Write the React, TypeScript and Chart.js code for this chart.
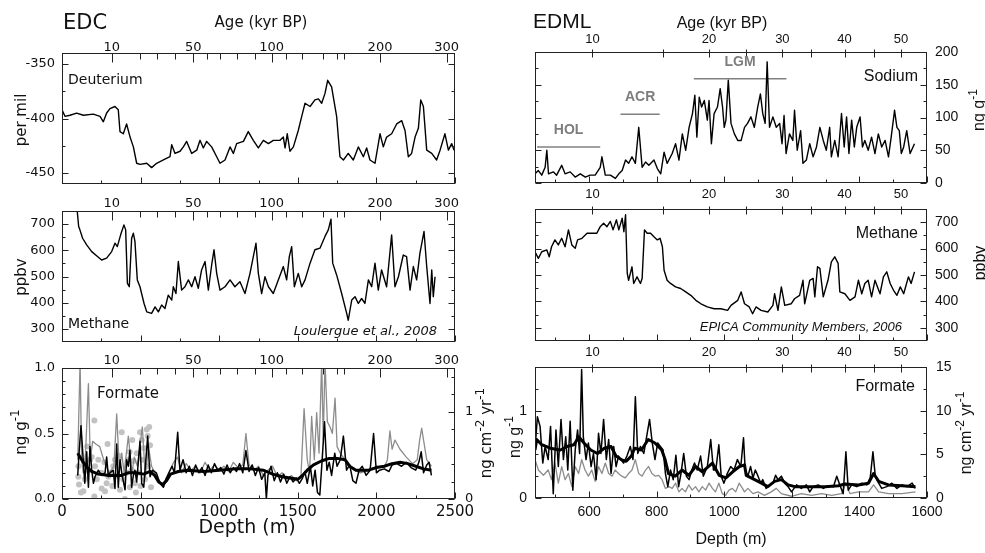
import React, { useEffect, useRef } from "react";
import { Chart, registerables } from "chart.js";

Chart.register(...registerables);

const W = 985;
const H = 553;
const LF = '"DejaVu Sans", "Liberation Sans", sans-serif';
const RF = '"Liberation Sans", Arial, sans-serif';
const AXW = 45; // reserved width for vertical axes
const AXH = 30; // reserved height for horizontal axes

// ---------------- DATA ----------------
// EDC age scale (kyr BP) expressed at depth (m)
const EDC_AGE_TICK_AGES = [10, 20, 30, 40, 50, 60, 70, 80, 90, 100, 110, 120, 130, 140, 150, 200, 300];
const EDC_AGE_TICK_DEPTHS = [316, 496, 602, 719, 835, 920, 1005, 1111, 1228, 1334, 1425, 1525, 1662, 1747, 1794, 2023, 2447];
const EDC_AGE_LABELS = [10, 50, 100, 200, 300];
const EDC_DEPTH_LABELS = [0, 500, 1000, 1500, 2000, 2500];

const EDC_DEUT_DEPTH = [0, 19, 51, 93, 136, 199, 242, 263, 284, 305, 337, 358, 369, 390, 411, 433, 454, 475, 496, 539, 570, 602, 645, 687, 698, 719, 751, 772, 793, 825, 857, 878, 899, 920, 952, 984, 1005, 1037, 1069, 1090, 1111, 1154, 1185, 1217, 1249, 1281, 1313, 1344, 1387, 1408, 1419, 1433, 1450, 1472, 1503, 1525, 1546, 1578, 1609, 1631, 1652, 1673, 1690, 1715, 1747, 1768, 1790, 1821, 1853, 1885, 1917, 1938, 1959, 1991, 2023, 2044, 2065, 2097, 2129, 2161, 2182, 2203, 2224, 2246, 2267, 2282, 2299, 2320, 2352, 2383, 2405, 2436, 2458, 2479, 2494];
const EDC_DEUT_VALUE = [-392, -398, -397, -395, -397, -396, -398, -403, -395, -391, -389, -392, -412, -414, -405, -417, -426, -441, -442, -441, -445, -441, -438, -435, -424, -432, -430, -426, -421, -432, -429, -420, -427, -421, -426, -435, -441, -438, -426, -432, -423, -421, -412, -420, -427, -420, -423, -420, -420, -417, -427, -414, -430, -426, -411, -398, -386, -389, -383, -382, -386, -377, -365, -371, -398, -435, -438, -432, -438, -426, -435, -427, -438, -441, -414, -426, -417, -414, -405, -402, -411, -435, -432, -417, -409, -383, -389, -429, -432, -438, -429, -414, -429, -423, -429];

const EDC_CH4_DEPTH = [97, 106, 114, 131, 157, 189, 220, 252, 284, 316, 337, 352, 373, 394, 405, 416, 428, 443, 454, 464, 479, 496, 522, 539, 570, 592, 613, 634, 655, 676, 698, 708, 725, 740, 761, 782, 804, 825, 846, 867, 888, 910, 931, 952, 967, 984, 1005, 1037, 1069, 1100, 1132, 1164, 1196, 1217, 1234, 1249, 1270, 1291, 1313, 1344, 1376, 1408, 1429, 1446, 1461, 1478, 1503, 1525, 1546, 1578, 1609, 1641, 1673, 1694, 1711, 1722, 1747, 1779, 1811, 1821, 1843, 1864, 1885, 1906, 1927, 1949, 1970, 1991, 2012, 2033, 2065, 2097, 2118, 2140, 2171, 2192, 2214, 2235, 2256, 2277, 2303, 2320, 2341, 2352, 2362, 2373];
const EDC_CH4_VALUE = [749, 691, 678, 646, 621, 595, 579, 563, 570, 595, 627, 614, 659, 697, 678, 474, 461, 646, 665, 634, 487, 461, 397, 365, 359, 384, 365, 391, 378, 429, 410, 461, 435, 557, 448, 461, 487, 461, 499, 455, 525, 557, 448, 544, 602, 512, 448, 461, 487, 461, 480, 435, 512, 576, 627, 512, 435, 499, 461, 435, 487, 538, 487, 576, 614, 461, 512, 461, 487, 551, 602, 608, 653, 678, 719, 551, 506, 435, 359, 333, 410, 423, 397, 416, 397, 487, 461, 551, 448, 525, 461, 659, 461, 499, 582, 576, 448, 538, 487, 589, 672, 538, 397, 525, 423, 499];

// EDC formate (ng/g): raw (black), running mean (thick), grey curve, grey dots
const EDC_FORM_DEPTH = [100, 110, 121, 135, 145, 157, 168, 178, 189, 200, 210, 231, 252, 274, 284, 295, 305, 326, 337, 348, 358, 369, 380, 401, 411, 422, 432, 443, 454, 464, 475, 496, 507, 520, 545, 560, 575, 600, 623, 645, 660, 680, 700, 715, 736, 750, 770, 790, 810, 830, 850, 870, 890, 910, 930, 950, 970, 990, 1010, 1030, 1050, 1070, 1090, 1110, 1130, 1150, 1170, 1190, 1210, 1230, 1250, 1270, 1290, 1300, 1310, 1330, 1350, 1370, 1390, 1410, 1430, 1450, 1470, 1490, 1510, 1530, 1545, 1560, 1580, 1595, 1610, 1625, 1640, 1655, 1670, 1685, 1700, 1715, 1735, 1750, 1770, 1790, 1810, 1830, 1850, 1870, 1890, 1910, 1935, 1960, 1982, 2000, 2020, 2050, 2080, 2100, 2130, 2160, 2190, 2220, 2250, 2270, 2285, 2300, 2320, 2335, 2350];
const EDC_FORM_VALUE = [0.18, 0.38, 0.56, 0.30, 0.12, 0.36, 0.09, 0.40, 0.22, 0.12, 0.17, 0.22, 0.18, 0.20, 0.32, 0.17, 0.20, 0.22, 0.08, 0.42, 0.09, 0.30, 0.20, 0.07, 0.30, 0.25, 0.37, 0.09, 0.18, 0.22, 0.13, 0.44, 0.12, 0.09, 0.48, 0.17, 0.22, 0.20, 0.12, 0.09, 0.15, 0.20, 0.25, 0.20, 0.51, 0.22, 0.30, 0.20, 0.25, 0.18, 0.26, 0.20, 0.24, 0.18, 0.26, 0.20, 0.27, 0.22, 0.24, 0.19, 0.26, 0.20, 0.24, 0.21, 0.27, 0.20, 0.37, 0.21, 0.26, 0.18, 0.24, 0.15, 0.20, 0.00, 0.18, 0.25, 0.14, 0.20, 0.13, 0.19, 0.12, 0.17, 0.13, 0.16, 0.12, 0.16, 0.21, 0.12, 0.25, 0.10, 0.22, 0.05, 0.03, 0.30, 0.59, 0.22, 0.28, 0.18, 0.35, 0.25, 0.30, 0.48, 0.22, 0.26, 0.14, 0.12, 0.22, 0.25, 0.18, 0.22, 0.50, 0.20, 0.22, 0.23, 0.21, 0.26, 0.27, 0.25, 0.28, 0.24, 0.22, 0.28, 0.36, 0.20, 0.26, 0.28, 0.18];
const EDC_FORM_MEAN_DEPTH = [100, 130, 160, 190, 230, 300, 380, 420, 470, 520, 560, 590, 615, 640, 665, 690, 740, 800, 900, 1000, 1100, 1200, 1280, 1340, 1400, 1450, 1500, 1530, 1560, 1600, 1650, 1700, 1750, 1800, 1830, 1870, 1950, 2000, 2050, 2100, 2150, 2200, 2250, 2300, 2350];
const EDC_FORM_MEAN_VALUE = [0.35, 0.29, 0.24, 0.21, 0.19, 0.18, 0.18, 0.20, 0.20, 0.19, 0.21, 0.18, 0.13, 0.11, 0.14, 0.19, 0.21, 0.22, 0.21, 0.22, 0.23, 0.23, 0.22, 0.19, 0.17, 0.16, 0.15, 0.18, 0.22, 0.26, 0.29, 0.31, 0.31, 0.30, 0.25, 0.22, 0.22, 0.24, 0.25, 0.27, 0.28, 0.27, 0.25, 0.23, 0.22];
const EDC_FLUX_DEPTH = [100, 115, 125, 135, 150, 168, 180, 195, 215, 240, 265, 300, 330, 348, 365, 380, 395, 422, 445, 460, 480, 511, 530, 550, 570, 600, 630, 650, 680, 710, 735, 760, 790, 820, 850, 880, 910, 940, 970, 1000, 1030, 1060, 1090, 1120, 1150, 1170, 1190, 1220, 1250, 1280, 1310, 1340, 1370, 1400, 1430, 1460, 1490, 1520, 1540, 1560, 1575, 1588, 1605, 1620, 1635, 1652, 1662, 1673, 1688, 1705, 1720, 1737, 1750, 1770, 1800, 1830, 1860, 1900, 1950, 2000, 2050, 2070, 2086, 2100, 2118, 2150, 2190, 2230, 2260, 2275, 2288, 2300, 2320, 2350];
const EDC_FLUX_VALUE = [0.30, 1.05, 0.30, 0.20, 0.35, 0.88, 0.30, 0.44, 0.42, 0.40, 0.30, 0.20, 0.25, 0.65, 0.22, 0.35, 0.20, 0.48, 0.20, 0.32, 0.25, 0.55, 0.17, 0.40, 0.25, 0.18, 0.12, 0.10, 0.20, 0.28, 0.32, 0.20, 0.27, 0.22, 0.25, 0.20, 0.28, 0.22, 0.26, 0.22, 0.25, 0.21, 0.28, 0.24, 0.26, 0.50, 0.26, 0.22, 0.25, 0.18, 0.22, 0.25, 0.17, 0.20, 0.15, 0.18, 0.14, 0.17, 0.69, 0.30, 0.20, 0.63, 0.30, 0.66, 0.35, 1.05, 0.45, 1.05, 0.59, 0.55, 0.50, 0.77, 0.40, 0.35, 0.30, 0.25, 0.22, 0.20, 0.22, 0.25, 0.24, 0.30, 0.52, 0.38, 0.45, 0.38, 0.32, 0.27, 0.30, 0.45, 0.54, 0.45, 0.30, 0.25];
const EDC_DOT_DEPTH = [104, 104, 108, 120, 136, 146, 160, 168, 178, 189, 206, 206, 210, 221, 231, 250, 252, 270, 274, 284, 290, 295, 305, 320, 326, 337, 350, 360, 369, 380, 390, 400, 411, 422, 430, 432, 443, 447, 455, 464, 470, 475, 486, 496, 500, 507, 511, 520, 528, 539, 545, 549, 555, 560, 566];
const EDC_DOT_VALUE = [0.25, 0.17, 0.11, 0.05, 0.06, 0.15, 0.40, 0.22, 0.30, 0.32, 0.60, 0.02, 0.25, 0.15, 0.30, 0.20, 0.08, 0.28, 0.06, 0.12, 0.42, 0.17, 0.20, 0.10, 0.25, 0.30, 0.18, 0.33, 0.07, 0.51, 0.15, 0.00, 0.20, 0.30, 0.36, 0.09, 0.22, 0.45, 0.29, 0.12, 0.05, 0.35, 0.20, 0.51, 0.10, 0.45, 0.30, 0.39, 0.15, 0.53, 0.48, 0.25, 0.55, 0.41, 0.09];

// EDML
const EDML_AGE_TICK_AGES = [10, 15, 20, 25, 30, 35, 40, 45, 50];
const EDML_AGE_TICK_DEPTHS = [610, 818, 955, 1065, 1172, 1258, 1356, 1442, 1523];
const EDML_AGE_LABELS = [10, 20, 30, 40, 50];
const EDML_DEPTH_LABELS = [600, 800, 1000, 1200, 1400, 1600];

const PERIOD_NAMES = ["HOL", "ACR", "LGM"];
const PERIOD_START_DEPTH = [446, 693, 910];
const PERIOD_END_DEPTH = [633, 809, 1184];
const PERIOD_NA_LEVEL = [55, 105, 159];

const EDML_NA_DEPTH = [440, 450, 460, 470, 475, 480, 494, 504, 519, 529, 544, 559, 574, 589, 603, 618, 633, 638, 648, 663, 678, 688, 698, 708, 717, 727, 737, 747, 757, 767, 777, 792, 802, 812, 822, 831, 846, 856, 866, 876, 886, 896, 906, 913, 919, 926, 933, 941, 950, 955, 962, 970, 980, 988, 995, 1000, 1005, 1012, 1020, 1030, 1040, 1050, 1060, 1069, 1079, 1089, 1099, 1107, 1114, 1121, 1127, 1134, 1144, 1154, 1164, 1171, 1177, 1183, 1193, 1203, 1208, 1216, 1226, 1233, 1243, 1253, 1263, 1273, 1283, 1293, 1302, 1312, 1317, 1327, 1337, 1347, 1355, 1362, 1369, 1377, 1385, 1392, 1402, 1409, 1416, 1426, 1436, 1446, 1456, 1466, 1476, 1486, 1494, 1504, 1511, 1518, 1524, 1531, 1540, 1550, 1563];
const EDML_NA_VALUE = [14, 19, 12, 24, 50, 14, 17, 12, 27, 14, 17, 9, 14, 9, 12, 12, 24, 40, 12, 12, 7, 14, 19, 35, 30, 40, 30, 85, 24, 32, 27, 35, 22, 14, 47, 30, 45, 60, 35, 75, 50, 85, 106, 134, 70, 131, 116, 126, 96, 126, 60, 106, 116, 144, 116, 85, 96, 157, 91, 75, 65, 65, 85, 91, 101, 85, 116, 136, 106, 91, 185, 85, 101, 85, 91, 60, 103, 45, 75, 65, 111, 50, 80, 30, 35, 60, 40, 55, 85, 65, 50, 85, 40, 65, 40, 106, 55, 101, 45, 96, 55, 85, 101, 55, 65, 50, 70, 45, 75, 55, 65, 40, 70, 111, 85, 80, 45, 55, 80, 45, 60];

const EDML_CH4_DEPTH = [440, 450, 460, 475, 482, 489, 499, 509, 519, 529, 539, 549, 559, 566, 579, 594, 623, 633, 643, 653, 663, 671, 681, 688, 698, 703, 708, 713, 717, 727, 732, 742, 752, 757, 764, 772, 782, 792, 802, 810, 817, 822, 831, 841, 856, 871, 886, 901, 916, 931, 950, 970, 990, 1010, 1020, 1040, 1050, 1060, 1074, 1084, 1094, 1109, 1129, 1144, 1149, 1159, 1169, 1179, 1198, 1208, 1223, 1233, 1238, 1253, 1263, 1268, 1276, 1283, 1293, 1307, 1317, 1327, 1337, 1342, 1357, 1372, 1387, 1397, 1407, 1416, 1426, 1436, 1446, 1461, 1471, 1481, 1491, 1501, 1511, 1521, 1531, 1545, 1553, 1563];
const EDML_CH4_VALUE = [588, 563, 588, 595, 569, 607, 633, 614, 639, 607, 671, 614, 601, 633, 639, 658, 658, 683, 696, 683, 703, 671, 709, 671, 715, 664, 728, 506, 480, 531, 468, 493, 468, 487, 671, 658, 658, 645, 633, 639, 607, 518, 480, 468, 455, 449, 436, 423, 404, 391, 379, 372, 372, 366, 385, 404, 436, 391, 379, 353, 379, 366, 360, 385, 429, 366, 455, 385, 391, 410, 423, 480, 391, 480, 487, 417, 531, 525, 417, 480, 550, 569, 544, 436, 429, 404, 417, 480, 429, 468, 480, 417, 480, 429, 493, 512, 468, 442, 423, 455, 429, 493, 468, 512];

const EDML_FORM_DEPTH = [440, 447, 455, 463, 470, 479, 486, 494, 502, 509, 517, 524, 531, 537, 544, 552, 559, 566, 572, 578, 583, 591, 598, 606, 613, 621, 628, 635, 643, 651, 658, 665, 673, 680, 687, 694, 702, 712, 722, 730, 737, 744, 752, 762, 772, 779, 787, 795, 803, 811, 819, 826, 833, 841, 849, 857, 865, 872, 880, 888, 896, 904, 912, 920, 930, 938, 950, 960, 968, 975, 984, 991, 999, 1009, 1019, 1029, 1039, 1049, 1057, 1062, 1070, 1078, 1085, 1092, 1100, 1108, 1114, 1124, 1134, 1144, 1152, 1159, 1169, 1179, 1189, 1199, 1214, 1228, 1243, 1253, 1263, 1278, 1293, 1308, 1323, 1333, 1342, 1352, 1360, 1367, 1377, 1392, 1407, 1422, 1432, 1440, 1447, 1457, 1466, 1481, 1496, 1511, 1526, 1541, 1556, 1565];
const EDML_FORM_VALUE = [0.55, 0.93, 0.82, 0.40, 0.59, 0.44, 0.82, 0.05, 0.78, 0.36, 0.90, 0.44, 0.70, 0.32, 0.88, 0.09, 0.55, 0.78, 0.51, 1.47, 0.70, 0.44, 0.63, 0.36, 0.51, 0.21, 0.74, 0.51, 0.90, 0.44, 0.67, 0.28, 0.59, 0.36, 0.48, 0.44, 0.40, 0.48, 0.59, 0.44, 1.16, 0.51, 0.59, 0.51, 0.74, 0.90, 0.63, 0.44, 0.63, 0.59, 0.55, 0.28, 0.13, 0.32, 0.21, 0.49, 0.13, 0.28, 0.51, 0.25, 0.21, 0.32, 0.40, 0.32, 0.48, 0.25, 0.36, 0.67, 0.32, 0.32, 0.61, 0.25, 0.17, 0.28, 0.36, 0.32, 0.44, 0.36, 0.69, 0.32, 0.25, 0.36, 0.23, 0.32, 0.25, 0.17, 0.21, 0.11, 0.15, 0.17, 0.26, 0.21, 0.25, 0.17, 0.13, 0.07, 0.15, 0.11, 0.15, 0.07, 0.13, 0.15, 0.11, 0.14, 0.13, 0.25, 0.15, 0.05, 0.53, 0.09, 0.15, 0.13, 0.17, 0.15, 0.23, 0.53, 0.25, 0.17, 0.11, 0.13, 0.17, 0.11, 0.15, 0.13, 0.17, 0.11];
const EDML_FORM_MEAN_DEPTH = [440, 445, 460, 485, 515, 535, 555, 570, 585, 605, 625, 645, 665, 680, 695, 710, 725, 735, 755, 775, 795, 815, 825, 835, 855, 875, 895, 915, 935, 965, 985, 1005, 1025, 1045, 1060, 1065, 1090, 1110, 1129, 1149, 1169, 1189, 1209, 1248, 1298, 1338, 1357, 1397, 1427, 1442, 1457, 1486, 1526, 1566];
const EDML_FORM_MEAN_VALUE = [0.55, 0.67, 0.61, 0.57, 0.55, 0.59, 0.61, 0.70, 0.63, 0.55, 0.51, 0.57, 0.59, 0.48, 0.44, 0.42, 0.48, 0.57, 0.55, 0.67, 0.63, 0.55, 0.44, 0.28, 0.25, 0.32, 0.26, 0.36, 0.30, 0.40, 0.26, 0.23, 0.30, 0.36, 0.38, 0.26, 0.21, 0.17, 0.13, 0.19, 0.21, 0.15, 0.13, 0.13, 0.13, 0.14, 0.16, 0.15, 0.17, 0.28, 0.19, 0.15, 0.14, 0.13];
const EDML_GREY_DEPTH = [440, 450, 465, 479, 489, 499, 509, 519, 529, 539, 549, 559, 569, 578, 588, 598, 608, 618, 628, 638, 648, 658, 668, 677, 687, 697, 707, 717, 727, 737, 747, 757, 767, 776, 786, 796, 806, 816, 826, 836, 846, 856, 866, 875, 885, 895, 905, 915, 925, 935, 945, 955, 965, 974, 984, 994, 1004, 1014, 1024, 1034, 1044, 1054, 1060, 1070, 1085, 1100, 1119, 1139, 1154, 1169, 1199, 1228, 1258, 1288, 1318, 1347, 1360, 1372, 1397, 1427, 1442, 1457, 1486, 1526, 1566];
const EDML_GREY_VALUE = [0.44, 0.32, 0.26, 0.32, 0.21, 0.40, 0.17, 0.36, 0.21, 0.28, 0.13, 0.36, 0.28, 0.44, 0.32, 0.25, 0.32, 0.19, 0.36, 0.28, 0.40, 0.28, 0.25, 0.32, 0.28, 0.25, 0.23, 0.28, 0.32, 0.44, 0.28, 0.25, 0.32, 0.36, 0.28, 0.25, 0.26, 0.21, 0.11, 0.13, 0.11, 0.17, 0.07, 0.11, 0.07, 0.15, 0.09, 0.13, 0.07, 0.13, 0.09, 0.17, 0.11, 0.07, 0.17, 0.05, 0.03, 0.09, 0.11, 0.07, 0.17, 0.11, 0.07, 0.11, 0.05, 0.07, 0.03, 0.07, 0.11, 0.05, 0.02, 0.05, 0.03, 0.05, 0.03, 0.05, 0.17, 0.05, 0.07, 0.07, 0.15, 0.07, 0.05, 0.05, 0.07];

// ---------------- helpers ----------------
type Part = { t: string; sup?: boolean };
type Txt = {
  parts: Part[];
  x: number;
  y: number;
  size: number;
  family: string;
  align?: "left" | "center" | "right";
  rotate?: boolean;
  style?: string;
  color?: string;
};

const txt = (s: string, x: number, y: number, size: number, family: string, more: any = {}): Txt => ({
  parts: [{ t: s }],
  x,
  y,
  size,
  family,
  ...more,
});
const rich = (parts: Part[], x: number, y: number, size: number, family: string, more: any = {}): Txt => ({
  parts,
  x,
  y,
  size,
  family,
  ...more,
});

const NG_G: Part[] = [{ t: "ng g" }, { t: "-1", sup: true }];
const FLUX: Part[] = [{ t: "ng cm" }, { t: "-2", sup: true }, { t: " yr" }, { t: "-1", sup: true }];

function drawTxt(ctx: CanvasRenderingContext2D, s: Txt) {
  const pre = s.style ? s.style + " " : "";
  const bigF = `${pre}${s.size}px ${s.family}`;
  const supF = `${pre}${Math.round(s.size * 0.78)}px ${s.family}`;
  ctx.save();
  ctx.translate(s.x, s.y);
  if (s.rotate) ctx.rotate(-Math.PI / 2);
  ctx.fillStyle = s.color || "#111";
  ctx.textBaseline = "middle";
  ctx.textAlign = "left";
  let total = 0;
  const widths = s.parts.map((p) => {
    ctx.font = p.sup ? supF : bigF;
    const w = ctx.measureText(p.t).width;
    total += w;
    return w;
  });
  let x = s.align === "center" ? -total / 2 : s.align === "right" ? -total : 0;
  s.parts.forEach((p, i) => {
    ctx.font = p.sup ? supF : bigF;
    ctx.fillText(p.t, x, p.sup ? -s.size * 0.42 : 0);
    x += widths[i];
  });
  ctx.restore();
}

type FrameSpec = {
  yMajor: number[];
  yMinor: number[];
  y2Major?: number[];
  y2Minor?: number[];
  xMajor: number[];
  xMinor: number[];
  ageDepths: number[];
  ageMajor: boolean[];
  majIn: number;
  majOut: number;
  minIn: number;
  minOut: number;
  texts: Txt[];
  periods?: boolean;
};

const makeFrame = (f: FrameSpec) => ({
  id: "frame",
  afterDraw(chart: any) {
    const { ctx, chartArea: a, scales } = chart;
    const L = Math.round(a.left) + 0.5;
    const R = Math.round(a.right) - 0.5;
    const T = Math.round(a.top) + 0.5;
    const B = Math.round(a.bottom) - 0.5;
    const P = (s: any, v: number) => Math.round(s.getPixelForValue(v)) + 0.5;
    const yS = scales.y;
    const y2S = scales.y2;
    const xS = scales.x;
    ctx.save();
    ctx.strokeStyle = "#222";
    ctx.lineWidth = 1;
    ctx.beginPath();
    const seg = (x1: number, y1: number, x2: number, y2: number) => {
      ctx.moveTo(x1, y1);
      ctx.lineTo(x2, y2);
    };
    f.yMajor.forEach((v) => {
      const y = P(yS, v);
      seg(L, y, L + 6, y);
      if (!y2S) seg(R, y, R - 6, y);
    });
    f.yMinor.forEach((v) => {
      const y = P(yS, v);
      seg(L, y, L + 3, y);
      if (!y2S) seg(R, y, R - 3, y);
    });
    if (y2S) {
      (f.y2Major || []).forEach((v) => {
        const y = P(y2S, v);
        seg(R, y, R - 6, y);
      });
      (f.y2Minor || []).forEach((v) => {
        const y = P(y2S, v);
        seg(R, y, R - 3, y);
      });
    }
    f.xMajor.forEach((v) => {
      const x = P(xS, v);
      seg(x, B, x, B - 6);
    });
    f.xMinor.forEach((v) => {
      const x = P(xS, v);
      seg(x, B, x, B - 3);
    });
    f.ageDepths.forEach((d, i) => {
      const x = P(xS, d);
      const maj = f.ageMajor[i];
      seg(x, T - (maj ? f.majOut : f.minOut), x, T + (maj ? f.majIn : f.minIn));
    });
    ctx.stroke();
    ctx.strokeRect(L, T, R - L, B - T);
    if (f.periods) {
      PERIOD_NAMES.forEach((n, i) => {
        const cx = (xS.getPixelForValue(PERIOD_START_DEPTH[i]) + xS.getPixelForValue(PERIOD_END_DEPTH[i])) / 2;
        const cy = yS.getPixelForValue(PERIOD_NA_LEVEL[i]) - 17;
        drawTxt(ctx, txt(n, cx, cy, 14, RF, { align: "center", style: "bold", color: "#7d7d7d" }));
      });
    }
    f.texts.forEach((t) => drawTxt(ctx, t));
    ctx.restore();
  },
});

function linAxis(position: string, min: number, max: number, labels: number[], family: string, size: number, pad: number, fmt?: (v: number) => string) {
  const horiz = position === "top" || position === "bottom";
  return {
    type: "linear",
    position,
    min,
    max,
    grid: { display: false, drawTicks: false },
    border: { display: false },
    afterBuildTicks: (s: any) => {
      s.ticks = labels.map((v) => ({ value: v }));
    },
    afterFit: (s: any) => {
      if (horiz) s.height = AXH;
      else s.width = AXW;
    },
    ticks: {
      display: labels.length > 0,
      autoSkip: false,
      maxRotation: 0,
      minRotation: 0,
      padding: pad,
      color: "#111",
      font: { family, size },
      callback: (v: any) => (fmt ? fmt(Number(v)) : String(v)),
    },
  };
}

const pts = (xs: number[], ys: number[]) => xs.map((x, i) => ({ x, y: ys[i] }));
const line = (xs: number[], ys: number[], color: string, width: number) => ({
  data: pts(xs, ys),
  borderColor: color,
  backgroundColor: color,
  borderWidth: width,
  pointRadius: 0,
  fill: false,
  tension: 0,
  borderJoinStyle: "round",
  xAxisID: "x",
  yAxisID: "y",
});
const dots = (xs: number[], ys: number[], color: string, r: number) => ({
  data: pts(xs, ys),
  showLine: false,
  pointRadius: r,
  pointBorderWidth: 0,
  pointBackgroundColor: color,
  borderColor: color,
  backgroundColor: color,
  xAxisID: "x",
  yAxisID: "y",
});

const edcAgeLabelDepths = EDC_AGE_LABELS.map((a) => EDC_AGE_TICK_DEPTHS[EDC_AGE_TICK_AGES.indexOf(a)]);
const edcAgeFmt = (d: number) => String(EDC_AGE_TICK_AGES[EDC_AGE_TICK_DEPTHS.indexOf(d)]);
const edcAgeMajor = EDC_AGE_TICK_AGES.map((a) => EDC_AGE_LABELS.includes(a));
const edmlAgeLabelDepths = EDML_AGE_LABELS.map((a) => EDML_AGE_TICK_DEPTHS[EDML_AGE_TICK_AGES.indexOf(a)]);
const edmlAgeFmt = (d: number) => String(EDML_AGE_TICK_AGES[EDML_AGE_TICK_DEPTHS.indexOf(d)]);
const edmlAgeMajor = EDML_AGE_TICK_AGES.map((a) => EDML_AGE_LABELS.includes(a));

const EDC_X = { min: 0, max: 2500 };
const EDML_X = { min: 440, max: 1600 };
const EDC_XMINOR = [250, 750, 1250, 1750, 2250];
const EDML_XMINOR = [500, 700, 900, 1100, 1300, 1500];

const leftAge = {
  ageDepths: EDC_AGE_TICK_DEPTHS,
  ageMajor: edcAgeMajor,
  majIn: 9,
  majOut: 0,
  minIn: 6,
  minOut: 0,
};
const rightAge = {
  ageDepths: EDML_AGE_TICK_DEPTHS,
  ageMajor: edmlAgeMajor,
  majIn: 5,
  majOut: 3,
  minIn: 5,
  minOut: 3,
};

function panels() {
  return [
    // ---- EDC deuterium ----
    {
      area: [62, 53, 455, 184],
      scales: {
        x: linAxis("bottom", EDC_X.min, EDC_X.max, [], LF, 15, 4),
        xTop: linAxis("top", EDC_X.min, EDC_X.max, edcAgeLabelDepths, LF, 13, -2, edcAgeFmt),
        y: linAxis("left", -460, -340, [-450, -400, -350], LF, 13, 7),
      },
      datasets: [line(EDC_DEUT_DEPTH, EDC_DEUT_VALUE, "#000", 1.4)],
      frame: {
        yMajor: [-450, -400, -350],
        yMinor: [-425, -375],
        xMajor: EDC_DEPTH_LABELS,
        xMinor: EDC_XMINOR,
        ...leftAge,
        texts: [
          txt("EDC", 63, 24, 21, LF),
          txt("Age (kyr BP)", 261, 23, 15, LF, { align: "center" }),
          txt("Deuterium", 68, 80, 14, LF),
          txt("per mil", 22, 120, 15, LF, { align: "center", rotate: true }),
        ],
      },
    },
    // ---- EDC methane ----
    {
      area: [62, 211, 455, 342],
      scales: {
        x: linAxis("bottom", EDC_X.min, EDC_X.max, [], LF, 15, 4),
        xTop: linAxis("top", EDC_X.min, EDC_X.max, edcAgeLabelDepths, LF, 13, 0, edcAgeFmt),
        y: linAxis("left", 250, 750, [300, 400, 500, 600, 700], LF, 13, 7),
      },
      datasets: [line(EDC_CH4_DEPTH, EDC_CH4_VALUE, "#000", 1.4)],
      frame: {
        yMajor: [300, 400, 500, 600, 700],
        yMinor: [350, 450, 550, 650],
        xMajor: EDC_DEPTH_LABELS,
        xMinor: EDC_XMINOR,
        ...leftAge,
        texts: [
          txt("Methane", 68, 324, 14, LF),
          txt("Loulergue et al., 2008", 437, 332, 13, LF, { align: "right", style: "italic" }),
          txt("ppbv", 22, 277, 15, LF, { align: "center", rotate: true }),
        ],
      },
    },
    // ---- EDC formate ----
    {
      area: [62, 368, 455, 499],
      scales: {
        x: linAxis("bottom", EDC_X.min, EDC_X.max, EDC_DEPTH_LABELS, LF, 15, 4),
        xTop: linAxis("top", EDC_X.min, EDC_X.max, edcAgeLabelDepths, LF, 13, 0, edcAgeFmt),
        y: linAxis("left", 0, 1, [0, 0.5, 1], LF, 13, 7, (v) => v.toFixed(1)),
        y2: linAxis("right", 0, 1.5, [0, 1], LF, 13, 10),
      },
      datasets: [
        line(EDC_FORM_MEAN_DEPTH, EDC_FORM_MEAN_VALUE, "#000", 3),
        line(EDC_FORM_DEPTH, EDC_FORM_VALUE, "#000", 1.5),
        line(EDC_FLUX_DEPTH, EDC_FLUX_VALUE, "#8c8c8c", 1.3),
        dots(EDC_DOT_DEPTH, EDC_DOT_VALUE, "#c2c2c2", 3),
      ],
      frame: {
        yMajor: [0, 0.5, 1],
        yMinor: [0.1, 0.2, 0.3, 0.4, 0.6, 0.7, 0.8, 0.9],
        y2Major: [0, 1],
        y2Minor: [0.2, 0.4, 0.6, 0.8, 1.2, 1.4],
        xMajor: EDC_DEPTH_LABELS,
        xMinor: EDC_XMINOR,
        ...leftAge,
        texts: [
          txt("Formate", 97, 394, 15, LF),
          txt("Depth (m)", 247, 528, 19, LF, { align: "center" }),
          rich(NG_G, 22, 432, 15, LF, { align: "center", rotate: true }),
          rich(FLUX, 487, 433, 15, LF, { align: "center", rotate: true }),
        ],
      },
    },
    // ---- EDML sodium ----
    {
      area: [535, 52, 927, 183],
      scales: {
        x: linAxis("bottom", EDML_X.min, EDML_X.max, [], RF, 14, 6),
        xTop: linAxis("top", EDML_X.min, EDML_X.max, edmlAgeLabelDepths, RF, 13, 5, edmlAgeFmt),
        y: linAxis("right", 0, 200, [0, 50, 100, 150, 200], RF, 14, 8),
      },
      datasets: [
        line(EDML_NA_DEPTH, EDML_NA_VALUE, "#000", 1.4),
        ...PERIOD_NAMES.map((_, i) =>
          line([PERIOD_START_DEPTH[i], PERIOD_END_DEPTH[i]], [PERIOD_NA_LEVEL[i], PERIOD_NA_LEVEL[i]], "#808080", 1.5)
        ),
      ],
      frame: {
        yMajor: [0, 50, 100, 150, 200],
        yMinor: [25, 75, 125, 175],
        xMajor: EDML_DEPTH_LABELS,
        xMinor: EDML_XMINOR,
        ...rightAge,
        periods: true,
        texts: [
          txt("EDML", 533, 22, 21, RF),
          txt("Age (kyr BP)", 722, 24, 16, RF, { align: "center" }),
          txt("Sodium", 918, 77, 16, RF, { align: "right" }),
          rich(NG_G, 980, 110, 16, RF, { align: "center", rotate: true }),
        ],
      },
    },
    // ---- EDML methane ----
    {
      area: [535, 209, 927, 341],
      scales: {
        x: linAxis("bottom", EDML_X.min, EDML_X.max, [], RF, 14, 6),
        xTop: linAxis("top", EDML_X.min, EDML_X.max, edmlAgeLabelDepths, RF, 13, 7, edmlAgeFmt),
        y: linAxis("right", 250, 750, [300, 400, 500, 600, 700], RF, 14, 8),
      },
      datasets: [line(EDML_CH4_DEPTH, EDML_CH4_VALUE, "#000", 1.4)],
      frame: {
        yMajor: [300, 400, 500, 600, 700],
        yMinor: [350, 450, 550, 650],
        xMajor: EDML_DEPTH_LABELS,
        xMinor: EDML_XMINOR,
        ...rightAge,
        texts: [
          txt("Methane", 918, 234, 16, RF, { align: "right" }),
          txt("EPICA Community Members, 2006", 902, 327, 13, RF, { align: "right", style: "italic" }),
          txt("ppbv", 981, 263, 16, RF, { align: "center", rotate: true }),
        ],
      },
    },
    // ---- EDML formate ----
    {
      area: [535, 367, 927, 498],
      scales: {
        x: linAxis("bottom", EDML_X.min, EDML_X.max, EDML_DEPTH_LABELS, RF, 14, 6),
        xTop: linAxis("top", EDML_X.min, EDML_X.max, edmlAgeLabelDepths, RF, 13, 7, edmlAgeFmt),
        y: linAxis("left", 0, 1.5, [0, 1], RF, 14, 8),
        y2: linAxis("right", 0, 15, [0, 5, 10, 15], RF, 14, 9),
      },
      datasets: [
        line(EDML_FORM_MEAN_DEPTH, EDML_FORM_MEAN_VALUE, "#000", 3),
        line(EDML_FORM_DEPTH, EDML_FORM_VALUE, "#000", 1.5),
        line(EDML_GREY_DEPTH, EDML_GREY_VALUE, "#8c8c8c", 1.3),
      ],
      frame: {
        yMajor: [0, 1],
        yMinor: [0.25, 0.5, 0.75, 1.25],
        y2Major: [0, 5, 10, 15],
        y2Minor: [2.5, 7.5, 12.5],
        xMajor: EDML_DEPTH_LABELS,
        xMinor: EDML_XMINOR,
        ...rightAge,
        texts: [
          txt("Formate", 915, 387, 16, RF, { align: "right" }),
          txt("Depth (m)", 731, 540, 16, RF, { align: "center" }),
          rich(NG_G, 516, 437, 16, RF, { align: "center", rotate: true }),
          rich(FLUX, 967, 433, 16, RF, { align: "center", rotate: true }),
        ],
      },
    },
  ];
}

function buildConfig(p: any) {
  const [L, T, R, B] = p.area;
  const axes = Object.values(p.scales) as any[];
  const leftW = axes.some((s) => s.position === "left") ? AXW : 0;
  const rightW = axes.some((s) => s.position === "right") ? AXW : 0;
  return {
    type: "line",
    data: { datasets: p.datasets },
    options: {
      animation: false,
      responsive: false,
      maintainAspectRatio: false,
      devicePixelRatio: 1,
      events: [],
      layout: {
        padding: {
          left: L - leftW,
          top: T - AXH,
          right: W - R - rightW,
          bottom: H - B - AXH,
        },
      },
      plugins: { legend: { display: false }, tooltip: { enabled: false }, title: { display: false } },
      scales: p.scales,
    },
    plugins: [makeFrame(p.frame)],
  };
}

export default function App() {
  const refs = useRef<(HTMLCanvasElement | null)[]>([]);
  useEffect(() => {
    const charts = panels().map((p, i) => new Chart(refs.current[i] as HTMLCanvasElement, buildConfig(p) as any));
    return () => charts.forEach((c) => c.destroy());
  }, []);
  return (
    <div
      style={{
        position: "absolute",
        left: 0,
        top: 0,
        width: W,
        height: H,
        background: "#fff",
        overflow: "hidden",
      }}
    >
      {[0, 1, 2, 3, 4, 5].map((i) => (
        <canvas
          key={i}
          ref={(el) => {
            refs.current[i] = el;
          }}
          width={W}
          height={H}
          style={{ position: "absolute", left: 0, top: 0, width: W, height: H }}
        />
      ))}
    </div>
  );
}
